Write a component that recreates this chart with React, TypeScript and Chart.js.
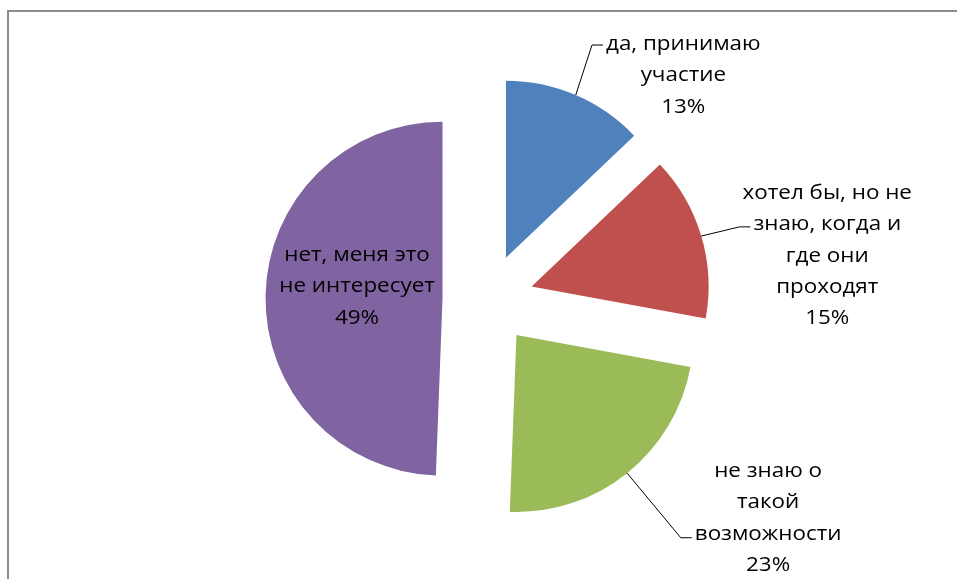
import React, { useEffect, useRef } from 'react';
import { Chart, registerables } from 'chart.js';

Chart.register(...registerables);

// ---- data ----
const categories: string[][] = [
  ['да, принимаю', 'участие'],
  ['хотел бы, но не', 'знаю, когда и', 'где они', 'проходят'],
  ['не знаю о', 'такой', 'возможности'],
  ['нет, меня это', 'не интересует'],
];
const values: number[] = [12.9, 15.0, 22.7, 49.4];
const colors: string[] = ['#4F81BD', '#C0504D', '#9BBB59', '#8064A2'];

// ---- layout / style ----
const RADIUS = 177;
const EXPLODE = 45.5;
const FONT = '"Open Sans", "Noto Sans", sans-serif';
const FONT_SIZE = 20;
const SX = 1.12;
const LINE_H = 31.3;

// radial: fraction of outer radius for anchor point; dx/dy: offset of block centre x / first baseline
const LABEL_LAYOUT = [
  { radial: 1, dx: 107.6, dy: -45, leader: 0, leaderDy: -5 },
  { radial: 1, dx: 126, dy: -37, leader: 1, leaderDy: -3.5 },
  { radial: 1, dx: 141, dy: 4, leader: 2, leaderDy: -2 },
  { radial: 0.5, dx: 3, dy: -36, leader: -1, leaderDy: 0 },
];

const explodePlugin = {
  id: 'explodeSlices',
  afterDatasetUpdate(_chart: any, args: any) {
    args.meta.data.forEach((arc: any) => {
      const mid = (arc.startAngle + arc.endAngle) / 2;
      arc.x += Math.cos(mid) * EXPLODE;
      arc.y += Math.sin(mid) * EXPLODE;
    });
  },
};

const labelPlugin = {
  id: 'sliceLabels',
  afterDatasetsDraw(chart: any) {
    const ctx: CanvasRenderingContext2D = chart.ctx;
    const meta = chart.getDatasetMeta(0);
    const total = values.reduce((a, b) => a + b, 0);
    ctx.save();
    ctx.font = `${FONT_SIZE}px ${FONT}`;
    ctx.fillStyle = '#000';
    ctx.strokeStyle = '#000';
    ctx.lineWidth = 1;
    ctx.textAlign = 'left';
    ctx.textBaseline = 'alphabetic';
    meta.data.forEach((arc: any, i: number) => {
      const lay = LABEL_LAYOUT[i];
      const mid = (arc.startAngle + arc.endAngle) / 2;
      const r = arc.outerRadius * lay.radial;
      const ax = arc.x + Math.cos(mid) * r;
      const ay = arc.y + Math.sin(mid) * r;
      const pct = Math.round((values[i] / total) * 100) + '%';
      const lines = [...categories[i], pct];
      const cx = ax + lay.dx;
      const firstBase = ay + lay.dy;
      lines.forEach((line, k) => {
        const w = ctx.measureText(line).width * SX;
        const left = cx - w / 2;
        const base = firstBase + k * LINE_H;
        ctx.save();
        ctx.translate(left, base);
        ctx.scale(SX, 1);
        ctx.fillText(line, 0, 0);
        ctx.restore();
      });
      if (lay.leader >= 0) {
        const w = ctx.measureText(lines[lay.leader]).width * SX;
        const left = cx - w / 2;
        const y = firstBase + lay.leader * LINE_H + lay.leaderDy;
        ctx.beginPath();
        ctx.moveTo(ax, ay);
        ctx.lineTo(left - 14, y);
        ctx.lineTo(left - 3, y);
        ctx.stroke();
      }
    });
    ctx.restore();
  },
};

export default function App() {
  const ref = useRef<HTMLCanvasElement | null>(null);
  useEffect(() => {
    if (!ref.current) return;
    const chart = new Chart(ref.current, {
      type: 'pie',
      data: {
        labels: categories.map((c) => c.join(' ')),
        datasets: [
          {
            data: values,
            backgroundColor: colors,
            borderWidth: 0,
            clip: false as any,
          },
        ],
      },
      options: {
        animation: false,
        responsive: false,
        radius: RADIUS,
        layout: { padding: { left: 19, right: 0, top: 20, bottom: 0 } },
        plugins: {
          legend: { display: false },
          tooltip: { enabled: false },
          title: { display: false },
        },
        events: [],
      } as any,
      plugins: [explodePlugin, labelPlugin],
    });
    return () => chart.destroy();
  }, []);
  return (
    <div
      style={{
        position: 'absolute',
        left: 0,
        top: 0,
        width: 957,
        height: 579,
        overflow: 'hidden',
        background: '#fff',
      }}
    >
      <div
        style={{
          position: 'absolute',
          left: 7,
          top: 10,
          width: 1100,
          height: 800,
          border: '2px solid #8c8c8c',
          boxSizing: 'border-box',
        }}
      />
      <canvas
        ref={ref}
        width={957}
        height={579}
        style={{ position: 'absolute', left: 0, top: 0, width: 957, height: 579 }}
      />
    </div>
  );
}
